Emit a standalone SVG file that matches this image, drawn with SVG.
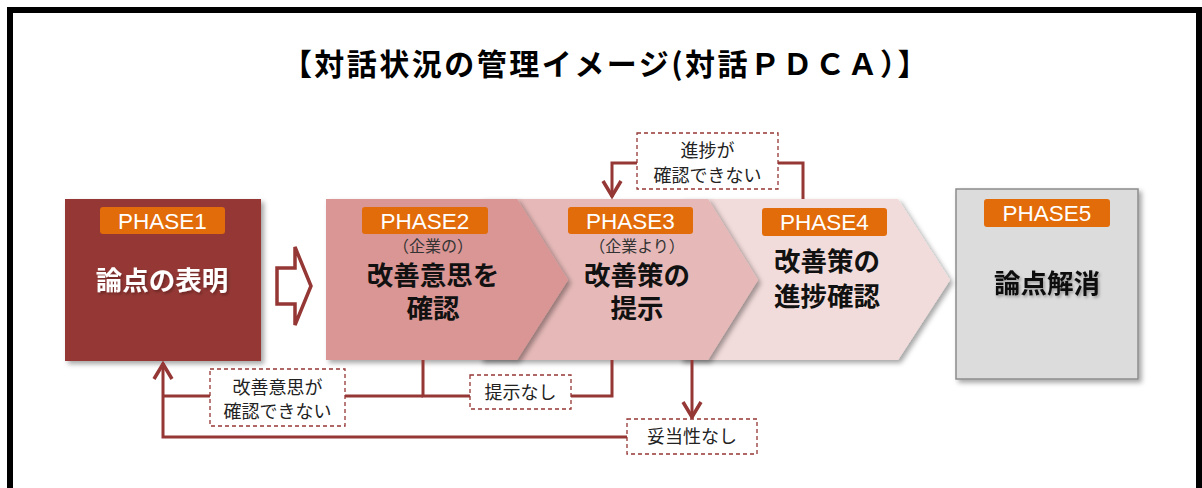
<svg xmlns="http://www.w3.org/2000/svg" width="1202" height="488" viewBox="0 0 1202 488">
<style>
.cjk{font-family:"Noto Sans CJK JP","Noto Sans",sans-serif}
.cjk2{font-family:"Liberation Sans","Noto Sans CJK JP",sans-serif}
.title{font-size:30px;font-weight:bold;fill:#000;letter-spacing:2.5px}
.main{font-size:26.5px;font-weight:bold;fill:#111}
.sub{font-size:16px;fill:#333}
.note{font-size:18px;fill:#222}
.lab{fill:#E36C0A}
.labt{font-family:"Liberation Sans",Arial,sans-serif;font-size:22.5px;fill:#fff}
.ln{fill:none;stroke:#953735;stroke-width:3}
.dash{fill:#fff;stroke:#953735;stroke-width:1.3;stroke-dasharray:4 3}
</style>
<defs>
<filter id="sh" x="-10%" y="-10%" width="125%" height="130%">
<feDropShadow dx="3" dy="3" stdDeviation="2.5" flood-color="#000" flood-opacity="0.35"/>
</filter>
<filter id="tsh" x="-10%" y="-20%" width="130%" height="160%">
<feDropShadow dx="1.5" dy="2" stdDeviation="1.5" flood-color="#000" flood-opacity="0.3"/>
</filter>
<marker id="ah" markerUnits="userSpaceOnUse" markerWidth="24" markerHeight="24" viewBox="-20 -12 24 24" refX="0" refY="0" orient="auto">
<path d="M-16,-9 L-1,0 L-16,9" fill="none" stroke="#953735" stroke-width="3.5" stroke-linejoin="miter"/>
</marker>
</defs>
<rect x="10" y="10" width="1189" height="500" fill="#fff" stroke="#000" stroke-width="6"/>
<text class="cjk title" x="606" y="75" text-anchor="middle">【対話状況の管理イメージ(対話ＰＤＣＡ）】</text>

<g id="phase5">
<rect x="956" y="189" width="182" height="190" fill="#DCDCDC" stroke="#8C8C8C" stroke-width="1.5" filter="url(#sh)"/>
<rect class="lab" x="984" y="199" width="126" height="28" rx="3"/>
<text class="labt" x="1047" y="221" text-anchor="middle">PHASE5</text>
<text class="cjk main" x="1047" y="293" text-anchor="middle" filter="url(#tsh)">論点解消</text>
</g>

<g id="phase4">
<polygon points="680,199 898,199 950,280 898,360 680,360" fill="#F2DCDB" filter="url(#sh)"/>
<rect class="lab" x="762" y="208" width="125" height="28" rx="3"/>
<text class="labt" x="824.5" y="230" text-anchor="middle">PHASE4</text>
<text class="cjk2 main" x="827" y="271" text-anchor="middle">改善策の</text>
<text class="cjk2 main" x="827" y="306" text-anchor="middle">進捗確認</text>
</g>

<g id="phase3">
<polygon points="480,199 708,199 758,280 708,360 480,360" fill="#E6B9B8" filter="url(#sh)"/>
<rect class="lab" x="568" y="207" width="125" height="27" rx="3"/>
<text class="labt" x="630.5" y="229" text-anchor="middle">PHASE3</text>
<text class="cjk2 sub" x="637" y="252" text-anchor="middle">（企業より）</text>
<text class="cjk2 main" x="637" y="285" text-anchor="middle">改善策の</text>
<text class="cjk2 main" x="637" y="318" text-anchor="middle">提示</text>
</g>

<g id="phase2">
<polygon points="326,199 517,199 568,280 517,360 326,360" fill="#D99694" filter="url(#sh)"/>
<rect class="lab" x="362" y="207" width="126" height="27" rx="3"/>
<text class="labt" x="425" y="229" text-anchor="middle">PHASE2</text>
<text class="cjk2 sub" x="433" y="252" text-anchor="middle">（企業の）</text>
<text class="cjk2 main" x="433" y="285" text-anchor="middle">改善意思を</text>
<text class="cjk2 main" x="433" y="318" text-anchor="middle">確認</text>
</g>

<g id="phase1">
<rect x="65" y="199" width="196" height="162" fill="#953735" filter="url(#sh)"/>
<rect class="lab" x="100" y="207" width="125" height="27" rx="3"/>
<text class="labt" x="162.5" y="229" text-anchor="middle">PHASE1</text>
<text class="cjk main" x="162" y="290" text-anchor="middle" style="fill:#fff" filter="url(#tsh)">論点の表明</text>
</g>

<g id="bigarrow">
<polygon points="277,268 295,268 295,247 311,286 295,325 295,304 277,304" fill="#fff" stroke="#953735" stroke-width="3.5" stroke-linejoin="miter"/>
</g>

<g id="connectors">
<polyline class="ln" points="803,199 803,163 778,163"/>
<polyline class="ln" points="637,163 612,163 612,197" marker-end="url(#ah)"/>
<polyline class="ln" points="423,360 423,396 470,396"/>
<polyline class="ln" points="571,396 612,396 612,360"/>
<polyline class="ln" points="423,396 345,396"/>
<polyline class="ln" points="210,396 163,396"/>
<polyline class="ln" points="627,437 163,437 163,363" marker-end="url(#ah)"/>
<polyline class="ln" points="692,360 692,418" marker-end="url(#ah)"/>
</g>

<g id="note-progress">
<rect class="dash" x="637" y="133" width="141" height="56"/>
<text class="cjk2 note" x="707.5" y="157" text-anchor="middle">進捗が</text>
<text class="cjk2 note" x="707.5" y="182" text-anchor="middle">確認できない</text>
</g>
<g id="note-will">
<rect class="dash" x="210" y="369" width="135" height="57"/>
<text class="cjk2 note" x="277.5" y="394" text-anchor="middle">改善意思が</text>
<text class="cjk2 note" x="277.5" y="418" text-anchor="middle">確認できない</text>
</g>
<g id="note-none">
<rect class="dash" x="470" y="375" width="101" height="34"/>
<text class="cjk note" x="520.5" y="399" text-anchor="middle">提示なし</text>
</g>
<g id="note-valid">
<rect class="dash" x="627" y="419" width="130" height="35"/>
<text class="cjk note" x="692" y="443" text-anchor="middle">妥当性なし</text>
</g>
</svg>
